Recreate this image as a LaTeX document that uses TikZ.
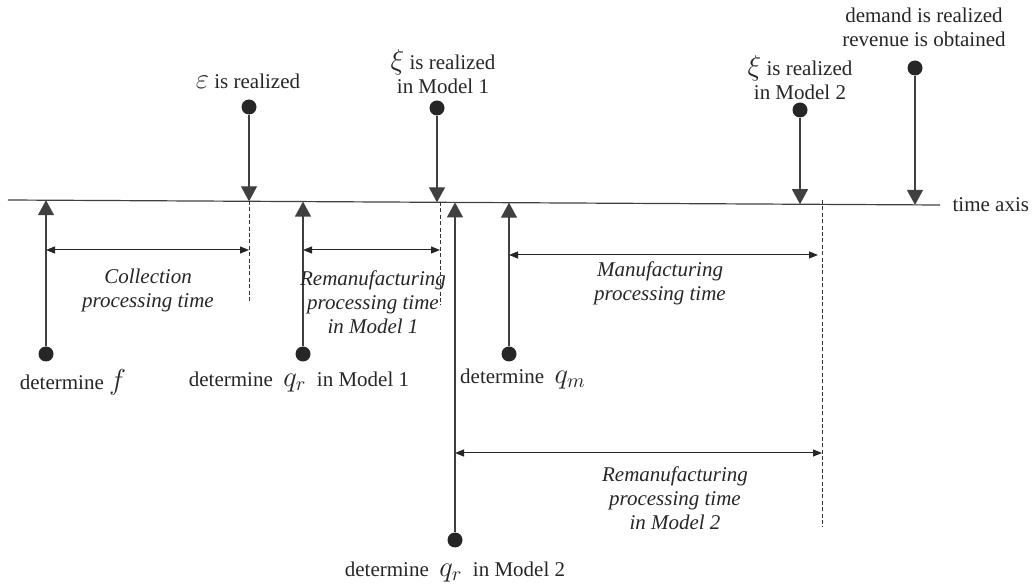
\documentclass[tikz,border=0pt]{standalone}
\usepackage{fontspec}
\setmainfont{Liberation Serif}
\usetikzlibrary{arrows.meta}
\newcommand{\mvar}[1]{{\fontsize{14}{14}\selectfont$#1$}}

\begin{document}
\begin{tikzpicture}[x=0.5pt, y=-0.5pt, auto,
    every node/.style={text=black!85, font=\fontsize{10.5}{12}\selectfont},
    event/.style ={circle, fill=black!85, inner sep=0pt, minimum size=7.5pt},
    pointer/.style ={draw=black!75, line width=0.6pt, -{Triangle[width=8pt, length=7.5pt]}},
    interval/.style ={draw=black!85, line width=0.5pt, {Triangle[width=3.5pt, length=4.5pt]}-{Triangle[width=3.5pt, length=4.5pt]}},
    limit/.style ={draw=black!80, line width=0.4pt, dash pattern=on 2pt off 1.2pt},
    span/.style ={align=center, font=\fontsize{10.5}{12}\selectfont\itshape},
    caption/.style ={align=center}]
   \useasboundingbox (0,0) rectangle (1034,587);
   % time axis
   \coordinate (T0) at (8,200);
   \coordinate (T1) at (940,205);
   \draw[black!75, line width=0.6pt] (T0) -- (T1) node[anchor=west, inner sep=6pt] (taxis) {time axis};
   % decisions below the axis
   \node[event] (F)   at (46,354)  {};
   \node[event] (QR1) at (303,354) {};
   \node[event] (QR2) at (455,540) {};
   \node[event] (QM)  at (509,354) {};
   % realizations above the axis
   \node[event] (EPS) at (249,107) {};
   \node[event] (XI1) at (437,108) {};
   \node[event] (XI2) at (800,110) {};
   \node[event] (DEM) at (915,68)  {};
   % points on the axis
   \coordinate (tF)   at (46,200.2);
   \coordinate (tQR1) at (303,201.6);
   \coordinate (tQR2) at (455,202.4);
   \coordinate (tQM)  at (509,202.7);
   \coordinate (tEPS) at (249,201.3);
   \coordinate (tXI1) at (437,202.3);
   \coordinate (tXI2) at (800,204.2);
   \coordinate (tDEM) at (915,204.9);
   \draw[pointer] (F) -- (tF);
   \draw[pointer] (QR1) -- (tQR1);
   \draw[pointer] (QR2) -- (tQR2);
   \draw[pointer] (QM) -- (tQM);
   \draw[pointer] (EPS) -- (tEPS);
   \draw[pointer] (XI1) -- (tXI1);
   \draw[pointer] (XI2) -- (tXI2);
   \draw[pointer] (DEM) -- (tDEM);
   % end of each processing time
   \coordinate (eC0)  at (249,201);
   \coordinate (eC1)  at (249,302);
   \coordinate (eR0)  at (440,202);
   \coordinate (eR1)  at (440,305);
   \coordinate (eM0)  at (822,200);
   \coordinate (eM1)  at (822,527);
   \draw[limit] (eC0) -- (eC1);
   \draw[limit] (eR0) -- (eR1);
   \draw[limit] (eM0) -- (eM1);
   \coordinate (c0) at (46,250);   \coordinate (c1) at (249,250);
   \coordinate (r0) at (303,250);  \coordinate (r1) at (440,250);
   \coordinate (m0) at (509,255);  \coordinate (m1) at (818,255);
   \coordinate (s0) at (455,453);  \coordinate (s1) at (822,453);
   \draw[interval] (c0) -- (c1);
   \draw[interval] (r0) -- (r1);
   \draw[interval] (m0) -- (m1);
   \draw[interval] (s0) -- (s1);
   \node[span] (collect) at (148,290) {Collection\\processing time};
   \node[span] (reman1)  at (373,302) {Remanufacturing\\processing time\\in Model 1};
   \node[span] (manuf)   at (660,283) {Manufacturing\\processing time};
   \node[span] (reman2)  at (675,498) {Remanufacturing\\processing time\\in Model 2};
   % texts
   \node[caption] (lEPS) at (248,81) {\mvar{\varepsilon} is realized};
   \node[caption] (lXI1) at (443,72) {\mvar{\xi} is realized\\in Model 1};
   \node[caption] (lXI2) at (800,78) {\mvar{\xi} is realized\\in Model 2};
   \node[caption] (lDEM) at (924,27) {demand is realized\\revenue is obtained};
   \node[caption] (lF)   at (73,382)  {determine \mvar{f}};
   \node[caption] (lQR1) at (299,382) {determine \ \mvar{q_r} \ in Model 1};
   \node[caption] (lQM)  at (523,379) {determine \ \mvar{q_m}};
   \node[caption] (lQR2) at (455,572) {determine \ \mvar{q_r} \ in Model 2};
 \end{tikzpicture}
\end{document}
